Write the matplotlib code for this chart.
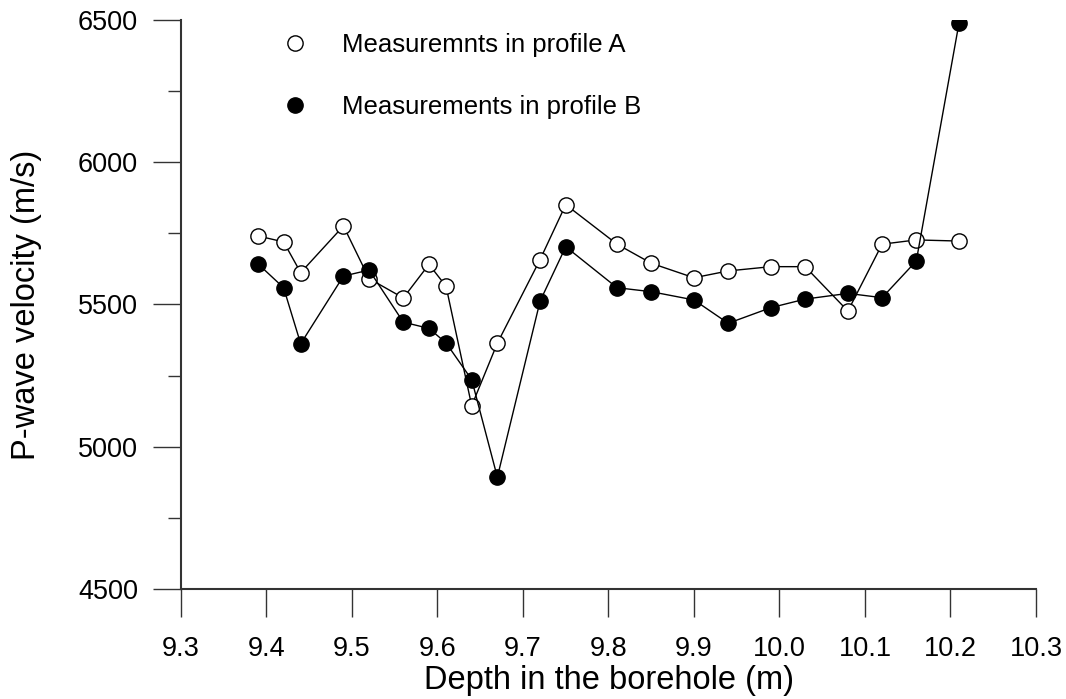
import matplotlib
matplotlib.use("Agg")
import matplotlib.pyplot as plt
from matplotlib.lines import Line2D

plt.rcParams['font.family'] = ['Liberation Sans', 'DejaVu Sans']

depth = [9.39, 9.42, 9.44, 9.49, 9.52, 9.56, 9.59, 9.61, 9.64, 9.67, 9.72,
         9.75, 9.81, 9.85, 9.90, 9.94, 9.99, 10.03, 10.08, 10.12, 10.16, 10.21]
profile_a = [5741, 5720, 5612, 5776, 5591, 5523, 5641, 5564, 5144, 5364, 5658,
             5851, 5712, 5645, 5594, 5618, 5633, 5633, 5477, 5712, 5727, 5723]
profile_b = [5643, 5559, 5362, 5600, 5621, 5438, 5416, 5365, 5236, 4893, 5512,
             5703, 5559, 5545, 5516, 5434, 5489, 5519, 5539, 5524, 5653, 6490]
label_a = "Measuremnts in profile A"
label_b = "Measurements in profile B"
xticks = [9.3, 9.4, 9.5, 9.6, 9.7, 9.8, 9.9, 10.0, 10.1, 10.2, 10.3]
yticks = [4500, 5000, 5500, 6000, 6500]
yminor = [4750, 5250, 5750, 6250]

W, H = 1066, 699
fig = plt.figure(figsize=(W / 100, H / 100), dpi=100)
ax = fig.add_axes([181 / W, 1 - 589 / H, (1036 - 181) / W, (589 - 20) / H])

ms = 11
ax.plot(depth, profile_a, color='black', lw=1.0, marker='o', markersize=ms,
        markerfacecolor='white', markeredgecolor='black', markeredgewidth=1.0,
        zorder=3)
ax.plot(depth, profile_b, color='black', lw=1.0, marker='o', markersize=ms,
        markerfacecolor='black', markeredgecolor='black', zorder=3)

ax.set_xlim(9.3, 10.3)
ax.set_ylim(4500, 6500)
ax.set_xticks(xticks)
ax.set_xticklabels([f"{v:.1f}" for v in xticks])
ax.set_yticks(yticks)
ax.set_yticks(yminor, minor=True)
ax.set_yticklabels([str(v) for v in yticks])

for s in ['top', 'right']:
    ax.spines[s].set_visible(False)
for s in ['left', 'bottom']:
    ax.spines[s].set_color('#333333')
    ax.spines[s].set_linewidth(1.5)

ax.tick_params(axis='y', which='major', direction='out', length=20, width=1.0,
               color='#333333', labelsize=19.5, pad=11)
ax.tick_params(axis='y', which='minor', direction='out', length=9.5, width=1.0,
               color='#333333')
ax.tick_params(axis='x', which='major', direction='out', length=20, width=1.0,
               color='#333333', labelsize=19.5, pad=14)

ax.set_xlabel("Depth in the borehole (m)", fontsize=23.5, va='center', ha='center')
ax.xaxis.set_label_coords(0.5, -(681 - 589) / 569)
ax.set_ylabel("P-wave velocity (m/s)", fontsize=23.5, va='center', ha='center')
ax.yaxis.set_label_coords((27 - 181) / 855, 0.5)

handles = [
    Line2D([], [], linestyle='none', marker='o', markersize=ms,
           markerfacecolor='white', markeredgecolor='black', markeredgewidth=1.0),
    Line2D([], [], linestyle='none', marker='o', markersize=ms,
           markerfacecolor='black', markeredgecolor='black'),
]
leg = ax.legend(handles, [label_a, label_b], loc='upper left',
                bbox_to_anchor=(282 / W, 1 - 33 / H), bbox_transform=fig.transFigure,
                frameon=False, fontsize=18.5, handlelength=1.0, handletextpad=1.33,
                labelspacing=1.46, borderpad=0, borderaxespad=0)

fig.savefig("out.png", dpi=100)
